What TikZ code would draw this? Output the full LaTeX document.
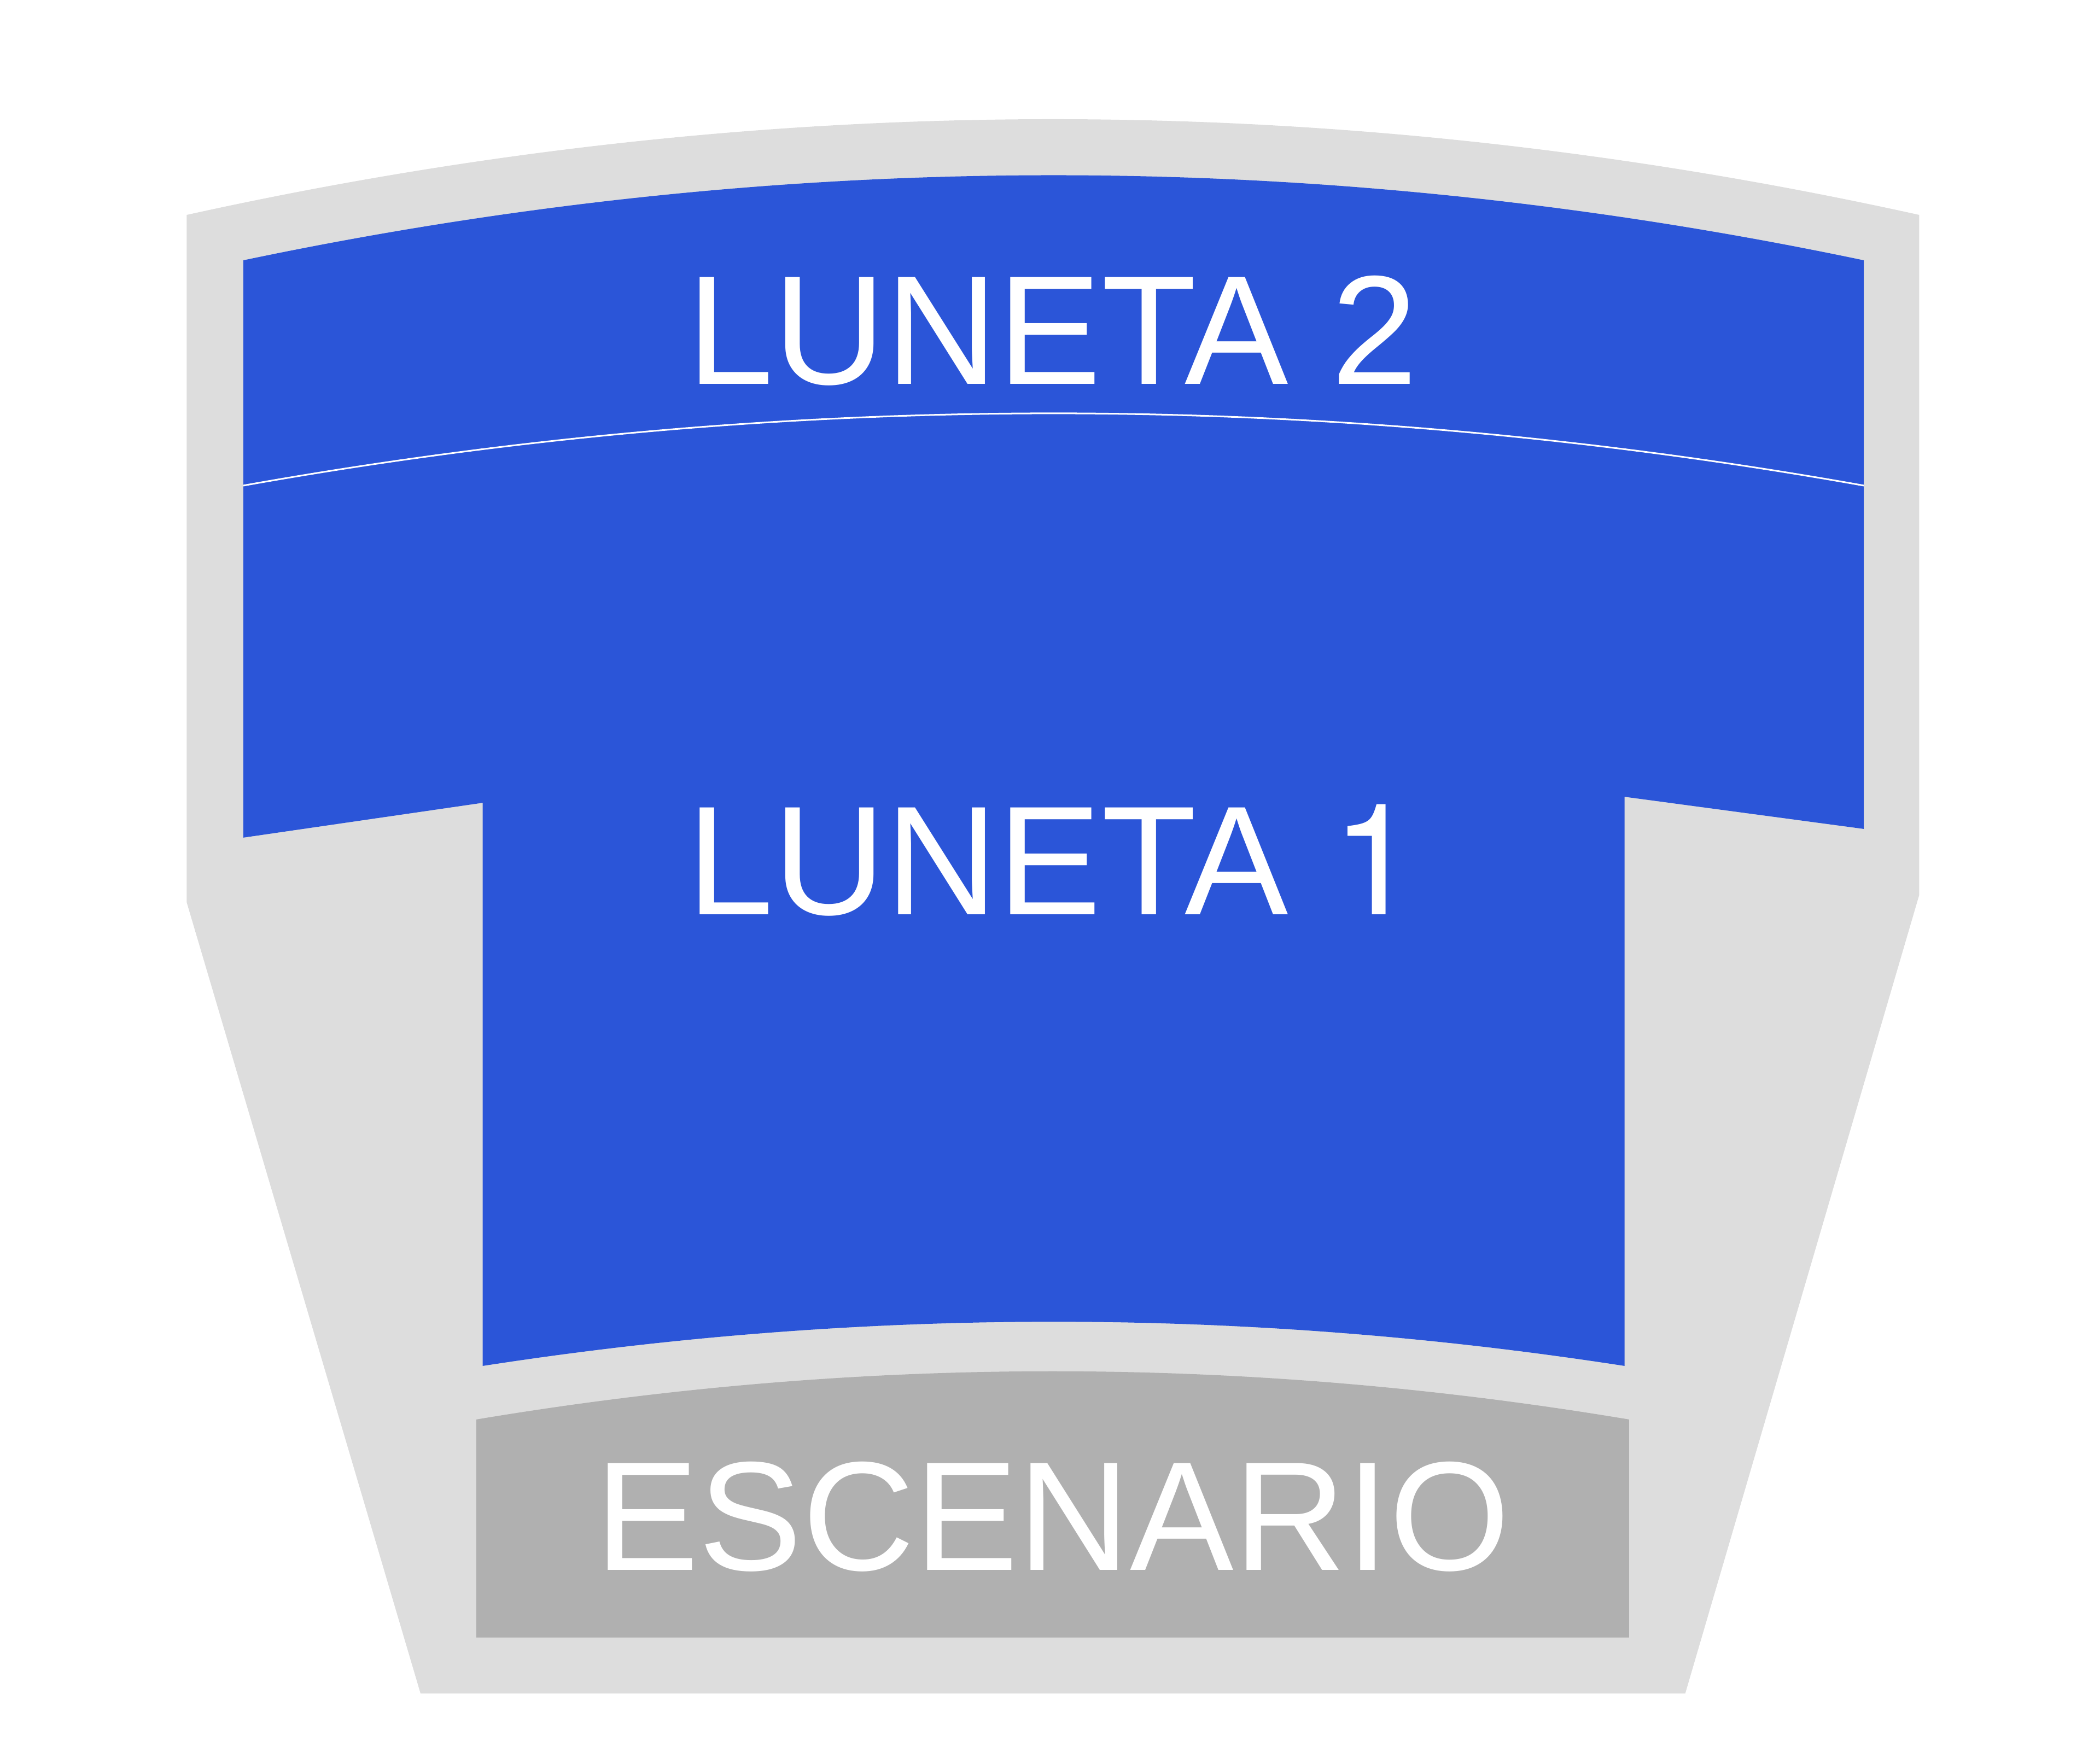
\documentclass[tikz,border=0pt]{standalone}
\usepackage{fontspec}
\setmainfont{Liberation Sans}
\newfontfamily\heros{TeX Gyre Heros}
\usepackage{xcolor}
\usepackage{tikz}
\definecolor{lunetablue}{RGB}{43,85,216}
\definecolor{pasillo}{RGB}{221,221,221}
\definecolor{tarima}{RGB}{176,176,176}

\begin{document}
\begin{tikzpicture}[seat/.style={fill=lunetablue}, aisle/.style={fill=pasillo}, stage/.style={fill=tarima},
    zonelabel/.style={text=white, anchor=base, inner sep=0pt, font=\fontsize{33}{40}\selectfont}]
            \useasboundingbox (0,0) rectangle (15.68,13.08);
            % sala
            \path[aisle] (1.394,6.342) -- (1.394,11.475) .. controls (5.706,12.428) and (10.018,12.428) .. (14.33,11.475)
                -- (14.33,6.397) -- (12.583,0.434) -- (3.14,0.434) -- cycle;
            % lunetas
            \path[seat] (1.817,9.454) -- (1.817,11.136) .. controls (5.85,11.983) and (9.883,11.983) .. (13.916,11.136)
                -- (13.916,9.454) .. controls (9.883,10.173) and (5.85,10.173) .. cycle;
            \path[seat] (1.817,9.454) .. controls (5.85,10.173) and (9.883,10.173) .. (13.916,9.454)
                -- (13.916,6.89) -- (12.13,7.13) -- (12.13,2.88) .. controls (9.29,3.32) and (6.444,3.32) .. (3.604,2.88)
                -- (3.604,7.085) -- (1.817,6.825) -- cycle;
            \draw[white, line width=0.35pt] (1.817,9.454) .. controls (5.85,10.173) and (9.883,10.173) .. (13.916,9.454);
            % escenario
            \path[stage] (3.556,0.852) -- (3.556,2.48) .. controls (6.425,2.96) and (9.295,2.96) .. (12.164,2.48)
                -- (12.164,0.852) -- cycle;

            \node[zonelabel] at (7.86,10.21) (l2) {LUNETA 2};
            \node[zonelabel] at (7.86,6.25)  (l1) {LUNETA {\heros 1}};
            \node[zonelabel] at (7.86,1.353) (esc) {ESCENARIO};
        \end{tikzpicture}
\end{document}
